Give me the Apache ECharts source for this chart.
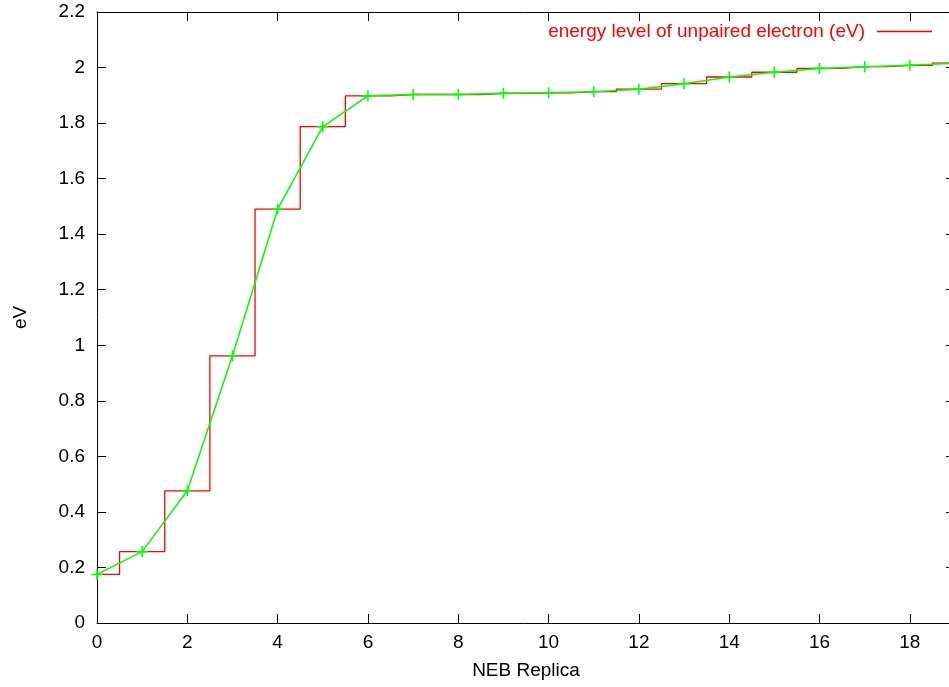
<!DOCTYPE html>
<html>
<head>
<meta charset="utf-8">
<script src="https://cdn.jsdelivr.net/npm/echarts@6/dist/echarts.min.js"></script>
<style>html,body{margin:0;padding:0;background:#fff;}#c{width:949px;height:687px;}</style>
</head>
<body>
<div id="c"></div>
<script>
// NEB replica index and energy level of unpaired electron (eV)
var replica = [0, 1, 2, 3, 4, 5, 6, 7, 8, 9, 10, 11, 12, 13, 14, 15, 16, 17, 18, 19];
var energy = [0.175, 0.257, 0.476, 0.962, 1.490, 1.787, 1.898, 1.903, 1.903, 1.907,
              1.909, 1.913, 1.922, 1.942, 1.966, 1.983, 1.997, 2.003, 2.008, 2.016];
var xTicks = [0, 2, 4, 6, 8, 10, 12, 14, 16, 18];
var yTicks = [0, 0.2, 0.4, 0.6, 0.8, 1, 1.2, 1.4, 1.6, 1.8, 2, 2.2];
var legendName = 'energy level of unpaired electron (eV)';

var pts = replica.map(function (x, i) { return [x, energy[i]]; });
var FONT = 'Liberation Sans';
function axisLine() { return { show: true, onZero: false, lineStyle: { color: '#000', width: 1 } }; }
function tick() { return { show: true, inside: true, length: 9, lineStyle: { color: '#000', width: 1 } }; }

var chart = echarts.init(document.getElementById('c'), null, { renderer: 'canvas' });
chart.setOption({
  animation: false,
  backgroundColor: '#fff',
  grid: { left: 97, right: -6, top: 12, bottom: 64, outerBoundsMode: 'none', containLabel: false },
  legend: {
    data: [{ name: legendName, icon: 'rect' }],
    right: 12, top: 17,
    align: 'right',
    itemWidth: 55, itemHeight: 1.5,
    itemStyle: { color: '#ff0000' },
    textStyle: { color: '#ff0000', fontFamily: FONT, fontSize: 19, padding: [0, 7, 0, 0] },
    selectedMode: false
  },
  xAxis: [{
    type: 'value', min: 0, max: 19, interval: 2,
    position: 'bottom',
    name: 'NEB Replica', nameLocation: 'middle', nameGap: 38,
    nameTextStyle: { color: '#000', fontFamily: FONT, fontSize: 19 },
    axisLine: axisLine(), axisTick: tick(),
    axisLabel: {
      color: '#000', fontFamily: FONT, fontSize: 19, margin: 10,
      showMaxLabel: false,
      formatter: function (v) { return xTicks.indexOf(v) >= 0 ? String(v) : ''; }
    },
    splitLine: { show: false }
  }, {
    type: 'value', min: 0, max: 19, interval: 2,
    position: 'top',
    axisLine: axisLine(), axisTick: tick(),
    axisLabel: { show: false }, splitLine: { show: false }
  }],
  yAxis: [{
    type: 'value', min: 0, max: 2.2, interval: 0.2,
    position: 'left',
    name: 'eV', nameLocation: 'middle', nameGap: 67,
    nameTextStyle: { color: '#000', fontFamily: FONT, fontSize: 19 },
    axisLine: axisLine(), axisTick: tick(),
    axisLabel: {
      color: '#000', fontFamily: FONT, fontSize: 19, margin: 12,
      formatter: function (v) {
        var r = Math.round(v * 10) / 10;
        for (var i = 0; i < yTicks.length; i++) if (Math.abs(yTicks[i] - r) < 1e-9) return String(yTicks[i]);
        return '';
      }
    },
    splitLine: { show: false }
  }, {
    type: 'value', min: 0, max: 2.2, interval: 0.2,
    position: 'right',
    axisLine: axisLine(), axisTick: tick(),
    axisLabel: { show: false }, splitLine: { show: false }
  }],
  series: [{
    name: legendName,
    type: 'line',
    step: 'middle',
    data: pts,
    xAxisIndex: 0, yAxisIndex: 0,
    symbol: 'none', showSymbol: false,
    clip: true,
    lineStyle: { color: '#ff0000', width: 1.3 },
    itemStyle: { color: '#ff0000' },
    z: 2
  }, {
    name: 'points',
    type: 'line',
    data: pts,
    xAxisIndex: 0, yAxisIndex: 0,
    symbol: 'path://M4.3,0H5.7V10H4.3ZM0,4.3H10V5.7H0Z',
    symbolSize: 11,
    showAllSymbol: true,
    clip: true,
    lineStyle: { color: '#00ff00', width: 1.5 },
    itemStyle: { color: '#00ff00' },
    z: 3
  }]
});
</script>
</body>
</html>
